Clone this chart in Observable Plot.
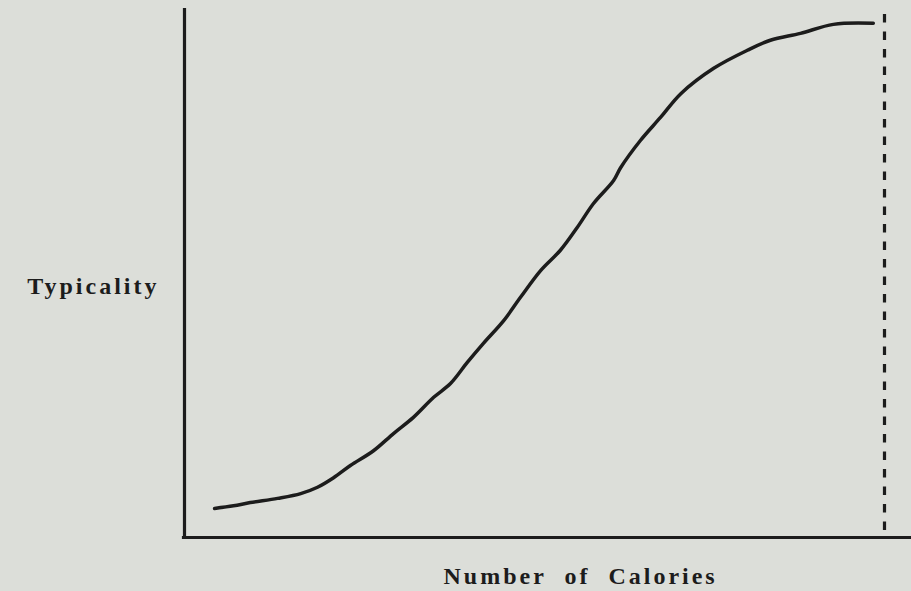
<!DOCTYPE html>
<html>
<head>
<meta charset="utf-8">
<script src="https://cdn.jsdelivr.net/npm/d3@7"></script>
<script src="https://cdn.jsdelivr.net/npm/@observablehq/plot@0.6"></script>
<style>
  html, body { margin: 0; padding: 0; background: #dcded9; }
  #chart svg { display: block; }
</style>
</head>
<body>
<div id="chart"></div>
<script>
// Number of calories (relative units, 0–100 across the frame)
const calories = [4.3, 7.0, 9.4, 13.3, 16.6, 19.0, 21.3, 23.7, 27.0, 29.9, 32.7, 35.6, 38.0, 40.4, 42.7, 45.6, 48.0, 50.9, 53.7, 56.1, 58.4, 61.3, 62.3, 65.1, 68.0, 70.9, 75.6, 80.4, 83.7, 88.0, 92.7, 98.4];
// Typicality (relative units, 0–100)
const typicality = [5.5, 6.0, 6.6, 7.4, 8.3, 9.5, 11.3, 13.6, 16.4, 19.7, 22.7, 26.5, 29.1, 33.1, 36.7, 41.0, 45.4, 50.5, 54.3, 58.6, 63.1, 67.5, 69.9, 75.0, 79.4, 83.9, 88.7, 92.1, 94.0, 95.3, 97.0, 97.2];
// Limit marker (dashed line) on the calories axis
const limitCalories = [100];
const limitRange = [1.3, 99.4];
// Axis line extents
const xAxisExtent = [-0.3, 103.9];
const yAxisExtent = [0, 100];
const xLabel = "Number of Calories";
const yLabel = "Typicality";

const curve = calories.map((c, i) => ({calories: c, typicality: typicality[i]}));
const ink = "#1c1c1c";

const chart = Plot.plot({
  width: 911,
  height: 591,
  marginLeft: 184,
  marginRight: 27,
  marginTop: 8,
  marginBottom: 54,
  style: {background: "#dcded9", overflow: "visible"},
  x: {domain: [0, 100], axis: null},
  y: {domain: [0, 100], axis: null},
  marks: [
    Plot.ruleX([0], {y1: yAxisExtent[0], y2: yAxisExtent[1], stroke: ink, strokeWidth: 3.2, clip: false}),
    Plot.ruleY([0], {x1: xAxisExtent[0], x2: xAxisExtent[1], stroke: ink, strokeWidth: 3.2, clip: false}),
    Plot.ruleX(limitCalories, {y1: limitRange[0], y2: limitRange[1], stroke: ink, strokeWidth: 3.2, strokeDasharray: "8.5,9"}),
    Plot.line(curve, {x: "calories", y: "typicality", stroke: ink, strokeWidth: 3.5, curve: "catmull-rom", strokeLinecap: "round"}),
    Plot.text([yLabel], {frameAnchor: "left", textAnchor: "end", lineAnchor: "bottom", dx: -25, dy: 20.5,
      fontFamily: "Liberation Serif", fontWeight: "bold", fontSize: 24, fill: ink}),
    Plot.text([xLabel], {frameAnchor: "bottom-left", textAnchor: "start", lineAnchor: "bottom", dx: 259, dy: 46,
      fontFamily: "Liberation Serif", fontWeight: "bold", fontSize: 24, fill: ink})
  ]
});
d3.select(chart).selectAll("text").style("letter-spacing", "3px").style("word-spacing", "9px");
document.getElementById("chart").appendChild(chart);
</script>
</body>
</html>
